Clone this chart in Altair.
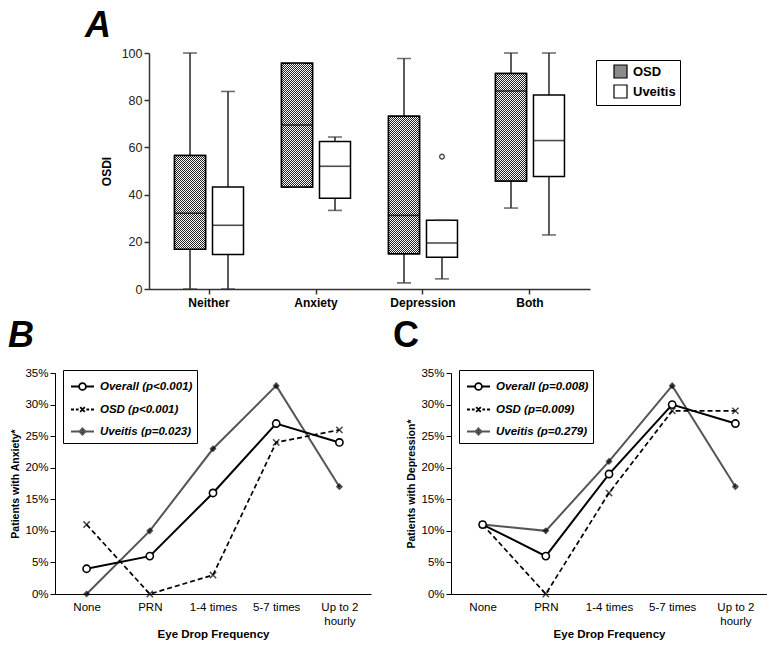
import math
import altair as alt
import pandas as pd

# ---------------- Panel A data (OSDI box plots) ----------------
conditions = ["Neither", "Anxiety", "Depression", "Both"]
cohorts = ["OSD", "Uveitis"]
osd_min = [0, 43.2, 2.6, 34.3]
osd_q1 = [16.8, 43.2, 14.9, 45.8]
osd_median = [32.1, 69.5, 31.2, 83.9]
osd_q3 = [56.6, 95.7, 73.2, 91.3]
osd_max = [100, 95.7, 97.7, 100]
uv_min = [0, 33.3, 4.3, 22.9]
uv_q1 = [14.6, 38.5, 13.5, 47.7]
uv_median = [27.0, 52.0, 19.5, 62.9]
uv_q3 = [43.2, 62.5, 29.1, 82.2]
uv_max = [83.7, 64.4, 29.1, 100]
outlier_condition = ["Depression"]
outlier_cohort = ["Uveitis"]
outlier_value = [56.1]

# ---------------- Panels B and C data ----------------
frequencies = ["None", "PRN", "1-4 times", "5-7 times", "Up to 2 hourly"]
series_names = ["Overall", "OSD", "Uveitis"]
anx_overall = [4, 6, 16, 27, 24]
anx_osd = [11, 0, 3, 24, 26]
anx_uveitis = [0, 10, 23, 33, 17]
dep_overall = [11, 6, 19, 30, 27]
dep_osd = [11, 0, 16, 29, 29]
dep_uveitis = [11, 10, 21, 33, 17]
anx_legend = ["Overall (p<0.001)", "OSD (p<0.001)", "Uveitis (p=0.023)"]
dep_legend = ["Overall (p=0.008)", "OSD (p=0.009)", "Uveitis (p=0.279)"]

FONT = "Liberation Sans"
A_W, A_H = 441, 236
BOX_W = 31

# ---------------- Panel A ----------------
rows = []
for i, c in enumerate(conditions):
    rows.append(dict(condition=c, cohort="OSD", mn=osd_min[i], q1=osd_q1[i],
                     med=osd_median[i], q3=osd_q3[i], mx=osd_max[i]))
    rows.append(dict(condition=c, cohort="Uveitis", mn=uv_min[i], q1=uv_q1[i],
                     med=uv_median[i], q3=uv_q3[i], mx=uv_max[i]))
box_df = pd.DataFrame(rows)
out_df = pd.DataFrame(dict(condition=outlier_condition, cohort=outlier_cohort,
                           value=outlier_value))

xA = alt.X("condition:N", sort=conditions, title=None,
           scale=alt.Scale(paddingInner=0.29, paddingOuter=0.206),
           axis=alt.Axis(labelAngle=0, labelFontWeight="bold", labelFontSize=12,
                         labelColor="black", tickSize=5, tickColor="#333",
                         tickWidth=1.5, domainColor="#333", domainWidth=1.5,
                         labelPadding=3))
xoA = alt.XOffset("cohort:N", sort=cohorts,
                  scale=alt.Scale(paddingInner=0, paddingOuter=0))
yscaleA = alt.Scale(domain=[0, 100])
yaxisA = alt.Axis(values=[0, 20, 40, 60, 80, 100], grid=False, tickSize=5,
                  tickColor="#333", tickWidth=1.5, domainColor="#333",
                  domainWidth=1.5, labelFontSize=12.5, labelColor="#222",
                  title="OSDI", titleFontSize=12, titleFontWeight="bold",
                  titleColor="black", titlePadding=8)


def yA(field):
    return alt.Y(f"{field}:Q", scale=yscaleA, axis=yaxisA)


def hatch(box_h, period=2.0 / math.sqrt(2), dark=0.5):
    """Diagonal (top-left to bottom-right) hatch as a striped linear gradient."""
    r = box_h / BOX_W
    t_max = (1 + r) / (1 + r * r)
    dt = period * t_max * math.sqrt(2) / (BOX_W + box_h)
    stops = []
    k = 0
    while k * dt < t_max and k < 600:
        a = k * dt
        b = min(a + dark * dt, 1.0)
        c = min(a + dt, 1.0)
        stops += [alt.GradientStop(offset=a, color="#222222"),
                  alt.GradientStop(offset=b, color="#222222"),
                  alt.GradientStop(offset=b, color="white"),
                  alt.GradientStop(offset=c, color="white")]
        k += 1
    return alt.LinearGradient(gradient="linear", stops=stops,
                              x1=0, y1=1, x2=1, y2=1 - r)


base_box = alt.Chart(box_df)
whisk_lo = base_box.mark_rule(color="#333", strokeWidth=1.6).encode(
    x=xA, xOffset=xoA, y=yA("mn"), y2="q1")
whisk_hi = base_box.mark_rule(color="#333", strokeWidth=1.6).encode(
    x=xA, xOffset=xoA, y=yA("q3"), y2="mx")
boxes = base_box.mark_bar(width=BOX_W, stroke="black", strokeWidth=1.5).encode(
    x=xA, xOffset=xoA, y=yA("q1"), y2="q3",
    fill=alt.Fill("cohort:N", sort=cohorts,
                  scale=alt.Scale(domain=cohorts, range=["#8a8a8a", "white"]),
                  legend=alt.Legend(title=None, orient="none", legendX=447,
                                    legendY=7, strokeColor="black", padding=4,
                                    symbolType="square", symbolSize=169,
                                    symbolStrokeColor="black",
                                    symbolStrokeWidth=1.2, labelFontSize=13,
                                    labelFontWeight="bold", labelColor="black",
                                    labelFont=FONT, rowPadding=1,
                                    symbolOffset=13, labelOffset=5)))
hatched = []
for i, c in enumerate(conditions):
    h_px = (osd_q3[i] - osd_q1[i]) * A_H / 100.0
    hatched.append(
        base_box.transform_filter(
            (alt.datum.condition == c) & (alt.datum.cohort == "OSD"))
        .mark_bar(width=BOX_W, stroke="black", strokeWidth=1.5,
                  fill=hatch(h_px))
        .encode(x=xA, xOffset=xoA, y=yA("q1"), y2="q3"))
medians = base_box.mark_tick(size=BOX_W, thickness=1.6, color="black").encode(
    x=xA, xOffset=xoA, y=yA("med"))
caps_lo = base_box.mark_tick(size=14, thickness=1.6, color="#333").encode(
    x=xA, xOffset=xoA, y=yA("mn"))
caps_hi = base_box.mark_tick(size=14, thickness=1.6, color="#333").encode(
    x=xA, xOffset=xoA, y=yA("mx"))
outliers = alt.Chart(out_df).mark_point(shape="circle", size=22, filled=False,
                                        color="black", strokeWidth=1.4).encode(
    x=xA, xOffset=xoA, y=yA("value"))

panelA = alt.layer(whisk_lo, whisk_hi, boxes, *hatched, medians, caps_lo,
                   caps_hi, outliers).properties(
    width=A_W, height=A_H,
    title=alt.TitleParams("A", anchor="start", frame="group", dx=-64,
                          fontSize=36, fontStyle="italic", fontWeight="bold",
                          color="black", offset=2))

# empty spacer that sets the left margin of the top row
spacer = alt.Chart(pd.DataFrame({"v": []})).mark_point(opacity=0).encode(
    x=alt.value(0), y=alt.value(0)).properties(width=30, height=1)

# ---------------- Panels B / C ----------------
P_X = "M-1,-1L1,1M-1,1L1,-1"
P_OVERALL = ("M-1,0L-0.3,0M0.3,0L1,0M0.3,0A0.3,0.3,0,1,1,-0.3,0"
             "A0.3,0.3,0,1,1,0.3,0Z")
P_OSD = ("M-1,0L-0.74,0M-0.58,0L-0.34,0M-0.2,-0.2L0.2,0.2M-0.2,0.2L0.2,-0.2"
         "M0.34,0L0.58,0M0.74,0L1,0")
P_UV = "M-1,0L1,0M0,-0.27L0.27,0L0,0.27L-0.27,0Z"


def line_panel(overall, osd, uveitis, legend_labels, ytitle, letter, italic, dx):
    df = pd.DataFrame({
        "freq": frequencies * 3,
        "series": [s for s in series_names for _ in frequencies],
        "pct": list(overall) + list(osd) + list(uveitis),
    })
    x = alt.X("freq:N", sort=frequencies,
              scale=alt.Scale(type="point", padding=0.5),
              axis=alt.Axis(title="Eye Drop Frequency", labelAngle=0, ticks=False,
                            labelExpr="datum.value == 'Up to 2 hourly' ? ['Up to 2', 'hourly'] : datum.value",
                            labelFontSize=11.5, labelColor="black",
                            labelLineHeight=14, labelPadding=7,
                            titleFontSize=11.5, titleFontWeight="bold",
                            titleColor="black", titlePadding=2,
                            domainColor="black", domainWidth=1))
    y = alt.Y("pct:Q", scale=alt.Scale(domain=[0, 35]),
              axis=alt.Axis(values=list(range(0, 36, 5)),
                            labelExpr="datum.value + '%'", grid=False,
                            tickSize=5, tickColor="black", domainColor="black",
                            labelFontSize=11.5, labelColor="black",
                            title=ytitle, titleFontSize=10.5,
                            titleFontWeight="bold", titleColor="black",
                            titlePadding=4))
    base = alt.Chart(df).encode(x=x, y=y)
    uv_line = base.mark_line(color="#555555", strokeWidth=2).transform_filter(
        alt.datum.series == "Uveitis")
    osd_line = base.mark_line(color="black", strokeWidth=1.7,
                              strokeDash=[5, 3]).transform_filter(
        alt.datum.series == "OSD")
    ov_line = base.mark_line(color="black", strokeWidth=2).transform_filter(
        alt.datum.series == "Overall")
    uv_pts = base.mark_point(shape="diamond", filled=True, color="black",
                             size=50).transform_filter(
        alt.datum.series == "Uveitis")
    osd_pts = base.mark_point(shape=P_X, filled=False, color="black",
                              strokeWidth=1.5, size=40).transform_filter(
        alt.datum.series == "OSD")
    ov_pts = base.mark_point(shape="circle", filled=True, fill="white",
                             stroke="black", strokeWidth=1.6, opacity=1,
                             size=52).transform_filter(
        alt.datum.series == "Overall")

    leg = alt.Legend(title=None, orient="none", legendX=8, legendY=-3,
                     strokeColor="black", padding=4, rowPadding=3,
                     symbolSize=529, symbolStrokeWidth=1.8, symbolOffset=3,
                     labelOffset=5, labelFontSize=11.5, labelFontWeight="bold",
                     labelFontStyle="italic", labelColor="black", labelFont=FONT,
                     symbolOpacity=1)
    legend_df = pd.DataFrame({"entry": legend_labels})
    legend_layer = alt.Chart(legend_df).mark_point(
        filled=True, strokeWidth=1.8, size=529, opacity=1).encode(
        shape=alt.Shape("entry:N", sort=legend_labels,
                        scale=alt.Scale(domain=legend_labels,
                                        range=[P_OVERALL, P_OSD, P_UV]),
                        legend=leg),
        stroke=alt.Stroke("entry:N", sort=legend_labels,
                          scale=alt.Scale(domain=legend_labels,
                                          range=["black", "black", "#555555"]),
                          legend=leg),
        fill=alt.Fill("entry:N", sort=legend_labels,
                      scale=alt.Scale(domain=legend_labels,
                                      range=["white", "white", "black"]),
                      legend=leg),
    ).transform_filter("false")

    return alt.layer(uv_line, osd_line, ov_line, uv_pts, osd_pts, ov_pts,
                     legend_layer).properties(
        width=316, height=221,
        title=alt.TitleParams(letter, anchor="start", frame="group", dx=dx,
                              fontSize=36, fontWeight="bold",
                              fontStyle="italic" if italic else "normal",
                              color="black", offset=12))


panelB = line_panel(anx_overall, anx_osd, anx_uveitis, anx_legend,
                    "Patients with Anxiety*", "B", True, -47)
panelC = line_panel(dep_overall, dep_osd, dep_uveitis, dep_legend,
                    "Patients with Depression*", "C", False, -58)

indep = dict(fill="independent", stroke="independent", shape="independent")
top = alt.hconcat(spacer, panelA, spacing=0).resolve_scale(
    **indep).resolve_legend(**indep)
bottom = alt.hconcat(panelB, panelC, spacing=22).resolve_scale(
    **indep).resolve_legend(**indep)
chart = alt.vconcat(top, bottom, spacing=10).resolve_scale(
    **indep).resolve_legend(**indep).properties(
    padding=0
).configure(font=FONT).configure_view(stroke=None)

chart.save("out.html", embed_options={"renderer": "svg", "actions": False})
